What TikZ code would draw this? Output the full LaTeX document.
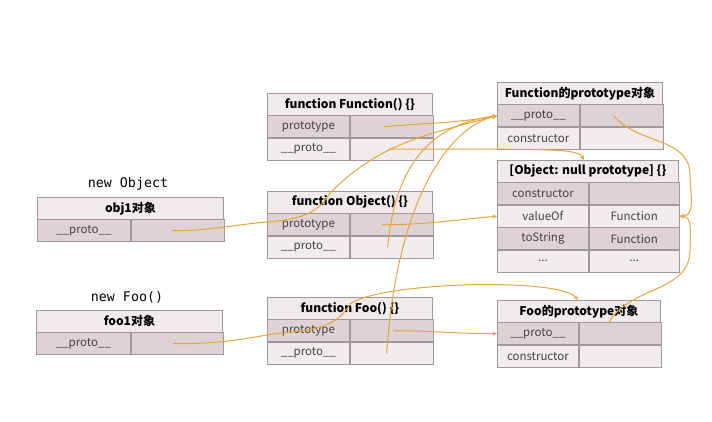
\documentclass[tikz,border=0pt]{standalone}
\usepackage{fontspec}
\setmainfont{Noto Sans CJK SC}
\setmonofont{DejaVu Sans Mono}
\definecolor{boxline}{RGB}{160,152,154}
\definecolor{hdfill}{RGB}{240,234,235}
\definecolor{dkfill}{RGB}{222,210,212}
\definecolor{ltfill}{RGB}{242,236,237}
\definecolor{rowtext}{RGB}{70,66,68}
\definecolor{linkorange}{RGB}{234,164,58}

\begin{document}
\begin{tikzpicture}[x=1pt, y=1pt, >=stealth,
        cellbase/.style={draw=boxline, line width=0.8pt, minimum height=21.7, inner sep=0pt, text=rowtext, font=\fontsize{11.5}{13}\selectfont},
        hd/.style={cellbase, fill=hdfill, text=black, font=\bfseries\fontsize{12}{14}\selectfont},
        dk/.style={cellbase, fill=dkfill},
        lt/.style={cellbase, fill=ltfill},
        link/.style={->, draw=linkorange, line width=1pt}]
            \useasboundingbox[fill=white] (0,0) rectangle (712,422);

            \node[hd, minimum width=165, anchor=north west] (fnH) at (267,329) {function Function() \{\}};
            \node[dk, minimum width=82, anchor=north west] (fnP) at (fnH.south west) {prototype};
            \node[dk, minimum width=83, anchor=west] (fnPv) at (fnP.east) {};
            \node[lt, minimum width=82, anchor=north west] (fnU) at (fnP.south west) {\_\_proto\_\_};
            \node[lt, minimum width=83, anchor=west] (fnUv) at (fnU.east) {};

            \node[hd, minimum width=165, anchor=north west] (obH) at (267,231) {function Object() \{\}};
            \node[dk, minimum width=82, anchor=north west] (obP) at (obH.south west) {prototype};
            \node[dk, minimum width=83, anchor=west] (obPv) at (obP.east) {};
            \node[lt, minimum width=82, anchor=north west] (obU) at (obP.south west) {\_\_proto\_\_};
            \node[lt, minimum width=83, anchor=west] (obUv) at (obU.east) {};

            \node[hd, minimum width=165, anchor=north west] (fooH) at (267,125) {function Foo() \{\}};
            \node[dk, minimum width=82, anchor=north west] (fooP) at (fooH.south west) {prototype};
            \node[dk, minimum width=83, anchor=west] (fooPv) at (fooP.east) {};
            \node[lt, minimum width=82, anchor=north west] (fooU) at (fooP.south west) {\_\_proto\_\_};
            \node[lt, minimum width=83, anchor=west] (fooUv) at (fooU.east) {};

            \node[font=\ttfamily\fontsize{13.3}{15}\selectfont] (newObj) at (128,238) {new Object};
            \node[hd, minimum width=186, anchor=north west] (o1H) at (37,225) {obj1对象};
            \node[dk, minimum width=93, anchor=north west] (o1U) at (o1H.south west) {\_\_proto\_\_};
            \node[dk, minimum width=93, anchor=west] (o1Uv) at (o1U.east) {};

            \node[font=\ttfamily\fontsize{13.3}{15}\selectfont] (newFoo) at (127,125) {new Foo()};
            \node[hd, minimum width=186, anchor=north west] (f1H) at (36,112) {foo1对象};
            \node[dk, minimum width=94, anchor=north west] (f1U) at (f1H.south west) {\_\_proto\_\_};
            \node[dk, minimum width=92, anchor=west] (f1Uv) at (f1U.east) {};

            \node[hd, minimum width=165, anchor=north west] (fpH) at (497,340) {Function的prototype对象};
            \node[dk, minimum width=82, anchor=north west] (fpP) at (fpH.south west) {\_\_proto\_\_};
            \node[dk, minimum width=83, anchor=west] (fpPv) at (fpP.east) {};
            \node[lt, minimum width=82, anchor=north west] (fpC) at (fpP.south west) {constructor};
            \node[lt, minimum width=83, anchor=west] (fpCv) at (fpC.east) {};

            \node[hd, minimum width=181, anchor=north west] (npH) at (497,262) {[Object: null prototype] \{\}};
            \node[dk, minimum width=91, anchor=north west] (npC) at (npH.south west) {constructor};
            \node[dk, minimum width=90, anchor=west] (npCv) at (npC.east) {};
            \node[lt, minimum width=91, anchor=north west] (npV) at (npC.south west) {valueOf};
            \node[lt, minimum width=90, anchor=west] (npVv) at (npV.east) {Function};
            \node[dk, minimum width=91, anchor=north west] (npS) at (npV.south west) {toString};
            \node[dk, minimum width=90, anchor=west] (npSv) at (npS.east) {Function};
            \node[lt, minimum width=91, anchor=north west] (npD) at (npS.south west) {...};
            \node[lt, minimum width=90, anchor=west] (npDv) at (npD.east) {...};

            \node[hd, minimum width=163, anchor=north west] (foopH) at (497,122) {Foo的prototype对象};
            \node[dk, minimum width=81, anchor=north west] (foopP) at (foopH.south west) {\_\_proto\_\_};
            \node[dk, minimum width=82, anchor=west] (foopPv) at (foopP.east) {};
            \node[lt, minimum width=81, anchor=north west] (foopC) at (foopP.south west) {constructor};
            \node[lt, minimum width=82, anchor=west] (foopCv) at (foopC.east) {};

            \coordinate (o1a) at (267,200);
            \coordinate (o1b) at (330,229);
            \coordinate (f1a) at (267,87);
            \coordinate (f1b) at (350,118);
            \coordinate (fpc) at (690,247);
            \coordinate (fpd) at (690,172);

            \draw[link] ([xshift=-8]fnPv.center) to[out=5,in=190] (fpP.west);
            \draw[link] ([xshift=-3]fnUv.center) .. controls +(160,0) and +(-6,12) .. ([xshift=-4]npH.north);
            \draw[link] ([xshift=-4]obUv.center) .. controls +(8,90) and +(-60,-8) .. (fpP.west);
            \draw[link] ([xshift=-5]fooUv.center) .. controls +(10,150) and +(-50,-12) .. (fpP.west);
            \draw[link] ([xshift=-10]obPv.center) to[out=0,in=185] (npV.west);
            \draw[link] ([xshift=-5]o1Uv.center) to[out=0,in=185] (o1a) to[out=5,in=-120] (o1b) to[out=45,in=195] (fpP.west);
            \draw[link] ([xshift=2]fooPv.center) to[out=0,in=180] (foopP.west);
            \draw[link] ([xshift=-4]f1Uv.center) to[out=0,in=190] (f1a) to[out=10,in=-120] (f1b) .. controls (380,140) and (560,145) .. ([xshift=-1]foopH.north);
            \draw[link] ([xshift=-8]fpPv.center) to[out=-50,in=90] (fpc) to[out=-90,in=0] (npVv.east);
            \draw[link] ([xshift=30]foopPv.north west) to[out=60,in=-90] (fpd) to[out=90,in=0] (npVv.east);
        \end{tikzpicture}
\end{document}
